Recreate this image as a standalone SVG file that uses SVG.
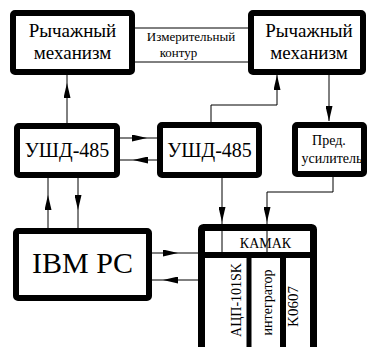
<svg xmlns="http://www.w3.org/2000/svg" width="371" height="347" viewBox="0 0 371 347">
<style>
.box{fill:#fff;stroke:#000;stroke-width:6;stroke-linejoin:round}
text{fill:#000;text-anchor:middle;font-family:'Liberation Serif','Times New Roman',serif}
.c{fill:none;stroke:#000;stroke-width:1}
.a{marker-mid:url(#ah)}
.e{marker-end:url(#ah)}
</style>
<defs>
<marker id="ah" markerUnits="userSpaceOnUse" viewBox="0 0 15 7" markerWidth="15" markerHeight="7" refX="15" refY="3.5" orient="auto">
<path d="M0,0 L15,3.5 L0,7 z" fill="#000"/>
</marker>
</defs>
<rect width="371" height="347" fill="#fff"/>
<g id="lever1">
<rect class="box" x="13" y="13" width="119" height="59" rx="2"/>
<text x="72.5" y="37" font-size="19">Рычажный</text>
<text x="72.5" y="59" font-size="19">механизм</text>
</g>
<g id="lever2">
<rect class="box" x="251" y="13" width="112" height="59" rx="2"/>
<text x="309" y="37" font-size="19">Рычажный</text>
<text x="309" y="59" font-size="19">механизм</text>
</g>
<g id="measure">
<line class="c" x1="135" y1="28" x2="248" y2="28"/>
<line class="c" x1="135" y1="62" x2="248" y2="62"/>
<text x="191" y="41" font-size="13">Измерительный</text>
<text x="178.5" y="57" font-size="13">контур</text>
</g>
<g id="ushd1">
<rect class="box" x="17" y="126" width="100" height="49" rx="2"/>
<text x="67" y="157" font-size="20">УШД-485</text>
</g>
<g id="ushd2">
<rect class="box" x="160" y="125" width="99" height="50" rx="2"/>
<text x="209.5" y="157" font-size="20">УШД-485</text>
</g>
<g id="preamp">
<rect class="box" x="295" y="125" width="69" height="49" rx="2"/>
<text x="329" y="145" font-size="14">Пред.</text>
<text x="332" y="163" font-size="14">усилитель</text>
</g>
<g id="ibmpc">
<rect class="box" x="16" y="231" width="133" height="67" rx="2"/>
<text x="82.5" y="273" font-size="30">IBM PC</text>
</g>
<g id="kamak">
<rect class="box" x="201.5" y="227.5" width="112" height="140" rx="2" style="stroke-width:7"/>
<line x1="198" y1="255" x2="317" y2="255" stroke="#000" stroke-width="6"/>
<line x1="249" y1="255" x2="249" y2="347" stroke="#000" stroke-width="5"/>
<line x1="283" y1="255" x2="283" y2="347" stroke="#000" stroke-width="6"/>
<text x="265.5" y="248" font-size="14">КАМАК</text>
<text transform="translate(241,300) rotate(-90)" font-size="14">АЦП-101SK</text>
<text transform="translate(271.5,302.5) rotate(-90)" font-size="14">интегратор</text>
<text transform="translate(298,306.5) rotate(-90)" font-size="15">K0607</text>
</g>
<g id="connectors">
<path class="c a" d="M67,123 L67,83 L67,75"/>
<path class="c a" d="M120,138 L147,138 L157,138"/>
<path class="c a" d="M157,160 L133,160 L120,160"/>
<path class="c e" d="M211,122 L211,105 L277,105 L277,75"/>
<path class="c e" d="M329,75 L329,121"/>
<path class="c a" d="M48,228 L48,195 L48,178"/>
<path class="c a" d="M78,178 L78,210 L78,228"/>
<path class="c a" d="M152,253 L178,253 L198,253"/>
<path class="c a" d="M198,280 L163,280 L152,280"/>
<path class="c a" d="M222,178 L222,222 L222,252"/>
<path class="c e" d="M333,177 L333,192 L267,192 L267,222"/>
<path class="c" d="M267,222 L267,252"/>
</g>
</svg>
